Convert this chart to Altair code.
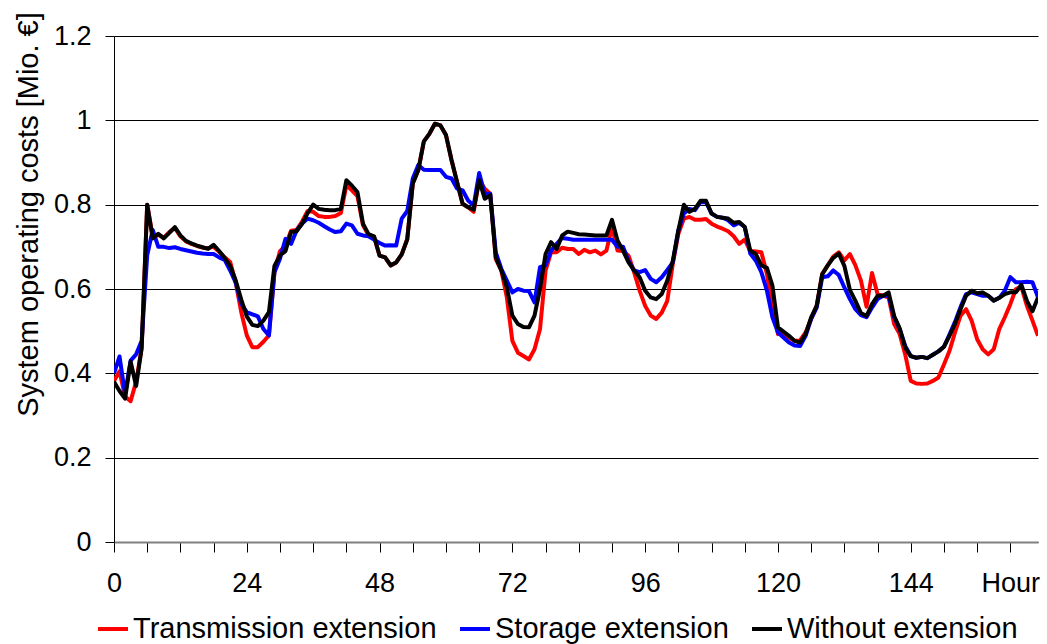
import altair as alt
import pandas as pd

hours = list(range(168))

transmission = [
    0.382, 0.405, 0.345, 0.334, 0.380, 0.460, 0.800, 0.725, 0.728, 0.722,
    0.735, 0.745, 0.725, 0.713, 0.707, 0.702, 0.698, 0.697, 0.700, 0.688,
    0.675, 0.664, 0.615, 0.545, 0.490, 0.462, 0.462, 0.475, 0.490, 0.640,
    0.690, 0.703, 0.738, 0.740, 0.760, 0.785, 0.783, 0.773, 0.771, 0.771,
    0.773, 0.780, 0.846, 0.834, 0.820, 0.751, 0.728, 0.724, 0.679, 0.675,
    0.656, 0.663, 0.682, 0.718, 0.850, 0.882, 0.950, 0.968, 0.992, 0.988,
    0.965, 0.906, 0.854, 0.802, 0.794, 0.783, 0.858, 0.838, 0.826, 0.671,
    0.644, 0.580, 0.477, 0.449, 0.441, 0.433, 0.457, 0.505, 0.644, 0.687,
    0.687, 0.698, 0.695, 0.695, 0.683, 0.693, 0.687, 0.691, 0.682, 0.691,
    0.747, 0.691, 0.690, 0.679, 0.640, 0.596, 0.560, 0.537, 0.529, 0.544,
    0.572, 0.660, 0.731, 0.767, 0.771, 0.764, 0.764, 0.766, 0.755, 0.748,
    0.743, 0.737, 0.725, 0.707, 0.717, 0.690, 0.689, 0.687, 0.636, 0.556,
    0.493, 0.497, 0.485, 0.477, 0.478, 0.497, 0.529, 0.560, 0.636, 0.656,
    0.677, 0.687, 0.668, 0.683, 0.656, 0.620, 0.558, 0.638, 0.588, 0.584,
    0.580, 0.517, 0.493, 0.445, 0.382, 0.376, 0.375, 0.376, 0.382, 0.390,
    0.421, 0.453, 0.497, 0.537, 0.552, 0.525, 0.481, 0.457, 0.445, 0.457,
    0.505, 0.533, 0.564, 0.600, 0.605, 0.560, 0.525, 0.489,
]

storage = [
    0.400, 0.440, 0.350, 0.430, 0.445, 0.477, 0.680, 0.740, 0.700, 0.700,
    0.697, 0.699, 0.695, 0.692, 0.689, 0.686, 0.684, 0.683, 0.683, 0.675,
    0.669, 0.644, 0.615, 0.565, 0.545, 0.540, 0.535, 0.505, 0.490, 0.640,
    0.672, 0.719, 0.707, 0.739, 0.755, 0.767, 0.763, 0.757, 0.749, 0.741,
    0.735, 0.737, 0.755, 0.751, 0.731, 0.727, 0.725, 0.717, 0.709, 0.703,
    0.704, 0.703, 0.767, 0.785, 0.862, 0.894, 0.883, 0.882, 0.882, 0.882,
    0.866, 0.862, 0.838, 0.834, 0.810, 0.798, 0.875, 0.826, 0.826, 0.687,
    0.648, 0.620, 0.592, 0.600, 0.596, 0.595, 0.568, 0.652, 0.656, 0.691,
    0.707, 0.721, 0.719, 0.717, 0.717, 0.717, 0.717, 0.717, 0.717, 0.717,
    0.717, 0.700, 0.700, 0.667, 0.644, 0.640, 0.645, 0.624, 0.616, 0.628,
    0.645, 0.663, 0.739, 0.779, 0.790, 0.787, 0.806, 0.806, 0.779, 0.771,
    0.769, 0.763, 0.751, 0.757, 0.747, 0.684, 0.667, 0.640, 0.596, 0.533,
    0.497, 0.485, 0.473, 0.466, 0.465, 0.489, 0.529, 0.556, 0.628, 0.630,
    0.644, 0.633, 0.604, 0.576, 0.552, 0.538, 0.533, 0.556, 0.576, 0.584,
    0.584, 0.533, 0.505, 0.465, 0.441, 0.437, 0.439, 0.436, 0.444, 0.452,
    0.463, 0.492, 0.522, 0.557, 0.588, 0.592, 0.588, 0.584, 0.584, 0.573,
    0.579, 0.596, 0.628, 0.616, 0.616, 0.617, 0.616, 0.580,
]

without = [
    0.380, 0.358, 0.340, 0.428, 0.370, 0.460, 0.800, 0.720, 0.731, 0.720,
    0.733, 0.747, 0.727, 0.714, 0.708, 0.703, 0.699, 0.695, 0.705, 0.690,
    0.674, 0.655, 0.620, 0.575, 0.535, 0.515, 0.512, 0.525, 0.545, 0.655,
    0.680, 0.690, 0.735, 0.737, 0.755, 0.780, 0.800, 0.790, 0.788, 0.787,
    0.787, 0.790, 0.858, 0.845, 0.830, 0.755, 0.730, 0.725, 0.679, 0.675,
    0.656, 0.663, 0.682, 0.718, 0.850, 0.882, 0.950, 0.968, 0.992, 0.988,
    0.965, 0.906, 0.854, 0.802, 0.794, 0.788, 0.858, 0.814, 0.822, 0.675,
    0.644, 0.604, 0.537, 0.517, 0.510, 0.509, 0.537, 0.600, 0.683, 0.711,
    0.695, 0.727, 0.736, 0.733, 0.730, 0.729, 0.728, 0.727, 0.727, 0.727,
    0.764, 0.715, 0.691, 0.663, 0.644, 0.628, 0.596, 0.580, 0.576, 0.588,
    0.620, 0.667, 0.739, 0.800, 0.783, 0.790, 0.809, 0.809, 0.779, 0.771,
    0.769, 0.767, 0.757, 0.759, 0.747, 0.691, 0.683, 0.656, 0.650, 0.608,
    0.509, 0.499, 0.489, 0.477, 0.473, 0.493, 0.533, 0.560, 0.635, 0.656,
    0.674, 0.684, 0.655, 0.598, 0.572, 0.543, 0.536, 0.564, 0.584, 0.584,
    0.592, 0.536, 0.507, 0.461, 0.441, 0.437, 0.439, 0.436, 0.444, 0.452,
    0.463, 0.489, 0.517, 0.552, 0.584, 0.596, 0.590, 0.592, 0.584, 0.572,
    0.579, 0.588, 0.592, 0.592, 0.610, 0.572, 0.547, 0.580,
]

series_names = ["Transmission extension", "Storage extension", "Without extension"]
series_colors = ["#ff0000", "#0000ff", "#000000"]

rows = []
for name, vals in zip(series_names, [transmission, storage, without]):
    for h, v in zip(hours, vals):
        rows.append({"hour": h, "cost": v, "series": name})
df = pd.DataFrame(rows)

FONT = "Liberation Sans"

x_enc = alt.X(
    "hour:Q",
    scale=alt.Scale(domain=[0, 167], nice=False, zero=False),
    axis=alt.Axis(
        values=list(range(0, 163, 6)),
        labelExpr="datum.value % 24 == 0 ? datum.label : (datum.value == 162 ? 'Hour' : '')",
        format="d",
        title=None,
        grid=False,
        tickSize=10,
        tickColor="#000000",
        domainColor="#808080",
        domainWidth=2,
        labelFontSize=27,
        labelFont=FONT,
        labelColor="#000000",
        labelPadding=18,
        labelFlush=False,
        labelOverlap=False,
    ),
)

y_enc = alt.Y(
    "cost:Q",
    scale=alt.Scale(domain=[0, 1.2], nice=False),
    axis=alt.Axis(
        values=[0, 0.2, 0.4, 0.6, 0.8, 1.0, 1.2],
        format=".1~f",
        title="System operating costs [Mio. €]",
        titleFontSize=29,
        titleFont=FONT,
        titleFontWeight="normal",
        titleColor="#000000",
        titleX=-86,
        titleY=178,
        titleAngle=270,
        titleAlign="center",
        titleBaseline="middle",
        grid=True,
        gridColor="#000000",
        gridWidth=1,
        gridOpacity=1,
        tickSize=9,
        tickColor="#000000",
        domainColor="#000000",
        domainWidth=1,
        labelFontSize=27,
        labelFont=FONT,
        labelColor="#000000",
        labelPadding=14,
    ),
)

color_enc = alt.Color(
    "series:N",
    scale=alt.Scale(domain=series_names, range=series_colors),
    title=None,
    legend=alt.Legend(
        orient="none",
        legendX=-18,
        legendY=576,
        direction="horizontal",
        columns=3,
        symbolType="stroke",
        symbolStrokeWidth=4,
        symbolSize=900,
        labelFontSize=29,
        labelFont=FONT,
        labelColor="#000000",
        labelOffset=3,
        columnPadding=15,
        labelLimit=600,
    ),
)

layers = []
for name in series_names:
    layers.append(
        alt.Chart(df)
        .transform_filter(alt.datum.series == name)
        .mark_line(strokeWidth=4, strokeJoin="round", clip=True)
        .encode(x=x_enc, y=y_enc, color=color_enc)
    )

chart = (
    alt.layer(*layers)
    .properties(
        width=924,
        height=506,
        padding={"left": 114, "top": 36, "right": 9, "bottom": 102},
        autosize=alt.AutoSizeParams(type="none"),
        background="#ffffff",
    )
    .configure_view(stroke=None)
)

chart.save("out.html", embed_options={"renderer": "svg", "actions": False})
